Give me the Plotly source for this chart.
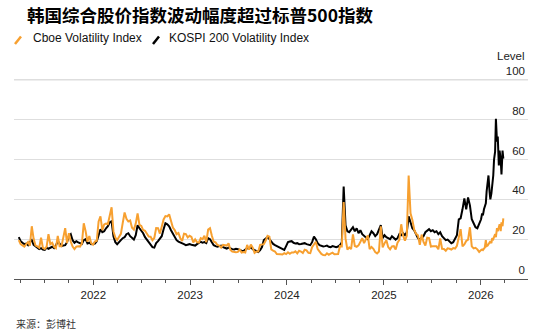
import pandas as pd
import plotly.graph_objects as go

# Weekly (Friday) closes, one list per calendar year; 2026 is sampled twice a week.
vix_2021 = [19.5,
            17.5, 16.9, 16.3, 17.5, 18.6,
            16.7, 26.5, 20.2, 16.8,
            16.4, 15.7, 20.7, 15.6,
            15.1, 16.2, 22.5, 17.5, 18.2,
            16.2, 15.5, 21.7, 16.4,
            16.4, 20.9, 25.5, 18.0,
            23.0, 18.8, 16.3, 15.0, 16.3,
            16.5, 16.3, 17.9, 28.0,
            24.0, 18.7, 21.6, 18.0, 17.2]
vko_2021 = [21.0,
            19.0, 18.2, 17.5, 17.8, 17.0,
            18.5, 19.5, 17.2, 16.3,
            15.8, 15.0, 15.5, 14.8,
            14.6, 15.8, 15.2, 15.9, 16.2,
            15.5, 16.8, 19.0, 17.5,
            16.5, 16.8, 17.0, 18.5,
            21.5, 22.5, 19.5, 18.2, 19.0,
            18.4, 18.0, 17.6, 19.5,
            20.0, 17.8, 18.2, 17.5, 17.6]

vix_2022 = [18.8, 19.2, 28.9, 31.5,
            24.5, 27.4, 27.8, 27.6,
            32.0, 36.0, 23.9, 20.8,
            19.6, 21.2, 22.7, 28.2, 33.4,
            30.2, 28.9, 29.4, 25.7,
            24.8, 27.8, 33.0, 27.2,
            26.7, 24.6, 24.2, 23.0, 21.3,
            21.2, 19.5, 20.6, 25.6,
            25.5, 22.8, 26.3, 29.9, 31.6,
            31.4, 32.5, 29.7, 25.8,
            24.6, 22.5, 23.1, 20.5,
            19.1, 22.8, 22.6, 20.9, 21.7]
vko_2022 = [17.8, 19.0, 22.5, 25.0,
            23.5, 24.0, 25.5, 26.5,
            28.5, 29.0, 21.5, 18.5,
            17.5, 18.8, 19.5, 20.5, 21.0,
            22.5, 23.0, 21.5, 20.5,
            19.8, 22.0, 27.0, 25.5,
            24.5, 23.0, 21.0, 19.8, 18.5,
            17.0, 16.0, 15.8, 18.0,
            19.0, 20.5, 21.5, 25.0, 28.0,
            27.5, 26.5, 24.5, 23.0,
            21.5, 19.5, 18.8, 18.5,
            17.8, 17.5, 17.0, 17.2, 17.5]

vix_2023 = [21.1, 18.4, 19.9, 18.5,
            18.3, 20.5, 20.0, 21.7,
            18.5, 24.8, 25.5, 21.7, 18.7,
            18.4, 17.1, 16.8, 15.8,
            17.2, 17.0, 16.8, 17.9,
            14.6, 13.8, 13.5, 13.4, 13.6,
            14.8, 13.3, 13.6, 13.3,
            17.1, 14.8, 17.3, 15.7,
            13.1, 13.8, 13.8, 17.2, 17.5,
            17.5, 19.3, 21.7, 21.3,
            14.9, 14.2, 13.8, 12.5,
            12.6, 12.4, 12.3, 13.0, 12.5]
vko_2023 = [17.2, 17.0, 16.8, 17.5,
            18.0, 18.7, 18.2, 18.5,
            18.0, 20.5, 20.0, 18.5, 17.0,
            16.5, 16.2, 16.5, 16.8,
            16.0, 15.6, 15.3, 15.8,
            15.2, 15.0, 14.8, 15.2, 15.0,
            14.5, 14.2, 14.0, 14.6,
            15.5, 15.2, 16.0, 15.0,
            14.5, 14.0, 13.6, 14.5, 16.0,
            19.5, 20.5, 21.0, 20.0,
            18.5, 17.6, 17.0, 16.5,
            16.0, 15.5, 15.0, 14.6, 16.5]

vix_2024 = [13.4, 12.7, 13.3, 13.3,
            13.9, 12.9, 14.2, 13.8,
            13.1, 14.7, 14.4, 13.1, 13.0,
            16.0, 17.3, 18.7, 15.0,
            13.5, 12.6, 12.0, 11.9, 12.9,
            12.2, 12.7, 13.2, 12.4,
            12.5, 12.5, 16.5, 16.4,
            38.6, 20.4, 14.8, 15.9, 15.0,
            22.4, 16.6, 16.2, 16.9,
            19.2, 20.5, 18.0, 20.3,
            21.9, 15.0, 16.1, 15.2, 13.5,
            12.8, 13.8, 26.5, 15.9]
vko_2024 = [18.5, 18.8, 19.0, 18.2,
            17.8, 18.0, 17.5, 17.6,
            17.8, 18.0, 17.5, 17.2, 17.0,
            18.5, 21.3, 20.0, 18.0,
            17.0, 16.8, 16.3, 16.5, 16.8,
            16.2, 16.0, 16.5, 16.3,
            16.0, 16.3, 17.0, 18.5,
            46.4, 27.0, 24.0, 23.5, 25.0,
            26.0, 24.0, 25.5, 23.0,
            24.5, 22.5, 21.5, 21.0,
            20.0, 22.0, 24.0, 23.0, 21.5,
            22.5, 24.5, 27.0, 20.5]

vix_2025 = [17.9, 19.5, 16.0, 14.9, 16.4,
            16.5, 14.8, 18.2, 19.6,
            27.5, 21.8, 19.3, 21.7,
            52.0, 33.0, 29.7, 24.8,
            22.7, 21.9, 17.2, 22.3, 18.6,
            16.8, 20.8, 20.6, 16.3,
            16.4, 16.4, 16.4, 14.9,
            20.4, 15.2, 15.1, 14.2, 15.4,
            15.2, 14.8, 15.5, 15.3,
            16.7, 21.7, 25.0, 16.4, 17.4,
            19.1, 19.8, 26.0, 16.4,
            15.4, 15.7, 14.9, 13.6]
vko_2025 = [22.0, 21.0, 20.5, 20.0, 21.5,
            20.5, 19.8, 20.5, 22.5,
            22.0, 23.0, 22.0, 23.5,
            31.5, 28.0, 25.5, 24.5,
            22.0, 20.5, 19.8, 20.5, 21.5,
            23.5, 24.5, 25.0, 24.0,
            24.5, 23.5, 24.0, 22.5,
            23.5, 21.5, 20.5, 19.5, 19.8,
            19.0, 18.0, 18.5, 20.0,
            22.0, 30.0, 30.5, 35.0, 40.5,
            35.0, 41.0, 37.0, 30.0,
            28.0, 26.0, 25.5, 27.5]

dates_2026 = ["2026-01-02", "2026-01-06", "2026-01-09", "2026-01-13", "2026-01-16",
              "2026-01-20", "2026-01-23", "2026-01-27", "2026-01-30", "2026-02-03",
              "2026-02-06", "2026-02-10", "2026-02-13", "2026-02-17", "2026-02-20",
              "2026-02-24", "2026-02-27", "2026-03-03", "2026-03-06", "2026-03-10",
              "2026-03-13", "2026-03-17", "2026-03-20", "2026-03-24", "2026-03-27"]
vix_2026 = [14.5, 14.8, 14.5, 15.5, 15.8, 19.5, 16.5, 16.8, 17.5, 18.5,
            19.0, 18.0, 20.5, 20.0, 21.0, 22.5, 21.0, 25.5, 24.0, 26.5,
            27.5, 24.0, 28.5, 26.5, 30.5]
vko_2026 = [30.0, 33.0, 32.0, 35.0, 36.5, 38.0, 44.0, 48.0, 52.0, 44.0,
            40.0, 43.0, 47.0, 52.0, 60.0, 64.0, 80.5, 69.0, 71.5, 57.0,
            64.5, 60.0, 52.5, 64.5, 60.5]

first_fridays = ["2021-03-26", "2022-01-07", "2023-01-06", "2024-01-05", "2025-01-03"]
vix_years = [vix_2021, vix_2022, vix_2023, vix_2024, vix_2025]
vko_years = [vko_2021, vko_2022, vko_2023, vko_2024, vko_2025]

y_ticks = [0, 20, 40, 60, 80, 100]

SERIES_VIX = "Cboe Volatility Index"
SERIES_VKO = "KOSPI 200 Volatility Index"
TITLE = "韩国综合股价指数波动幅度超过标普500指数"
SOURCE = "来源：彭博社"
UNIT = "Level"

ORANGE = "#F7A030"
BLACK = "#000000"
GRID = "#dedede"

# ---- assemble series -------------------------------------------------------
dates, vix, vko = [], [], []
for start, v, k in zip(first_fridays, vix_years, vko_years):
    dates += list(pd.date_range(start, periods=len(v), freq="W-FRI"))
    vix += v
    vko += k
dates += list(pd.to_datetime(dates_2026))
vix += vix_2026
vko += vko_2026

# ---- page geometry ---------------------------------------------------------
# y scale: 0 sits at 279 px and 1 unit = 1.99 px; the axis is padded above 100
# so that the raised "100" label still fits inside the plotting area.
W, H = 554, 331
Y_TOP = 108
ML, MR, MB = 14, 26, 52
MT = round(H - MB - 1.99 * Y_TOP)
PW, PH = W - ML - MR, H - MT - MB


def px(x):
    return (x - ML) / PW


def py(y):
    return (H - MB - y) / PH


fig = go.Figure()
fig.add_trace(go.Scatter(x=dates, y=vko, mode="lines", name=SERIES_VKO,
                         line=dict(color=BLACK, width=2)))
fig.add_trace(go.Scatter(x=dates, y=vix, mode="lines", name=SERIES_VIX,
                         line=dict(color=ORANGE, width=2)))

latin = "Liberation Sans, Arial, sans-serif"
cjk = "Noto Sans CJK SC, sans-serif"

fig.update_layout(
    width=W, height=H,
    margin=dict(l=ML, r=MR, t=MT, b=MB),
    paper_bgcolor="white", plot_bgcolor="white",
    showlegend=False,
    title=dict(text=TITLE, x=14 / W, xanchor="left", xref="paper",
               y=1 - 16 / H, yanchor="middle", yref="container",
               font=dict(family=cjk, size=17.5, color="#000", weight=700)),
    xaxis=dict(
        type="date",
        range=["2021-03-08", "2026-06-28"],
        showgrid=False, zeroline=False,
        showline=True, linecolor="#555", linewidth=1,
        ticks="outside", ticklen=5, tickcolor="#555", tickwidth=1,
        dtick="M12", tick0="2022-01-01", tickformat="%Y",
        minor=dict(dtick="M3", tick0="2022-01-01", ticks="outside", ticklen=3,
                   tickcolor="#555", tickwidth=1, showgrid=False),
        tickfont=dict(family=latin, size=11.5, color="#222"),
    ),
    yaxis=dict(
        range=[0, Y_TOP], side="right",
        tickvals=y_ticks,
        ticklabelposition="inside", ticks="",
        ticklabelshift=-9,
        showgrid=True, gridcolor=GRID, gridwidth=1.3,
        zeroline=False, showline=False,
        tickfont=dict(family=latin, size=11.5, color="#222"),
    ),
)

# reference line at the top labelled level, drawn over the plot area
fig.add_shape(type="line", xref="paper", yref="y", x0=0, x1=1,
              y0=y_ticks[-1], y1=y_ticks[-1],
              line=dict(color=GRID, width=1.3), layer="above")

# legend swatches (short slanted strokes) and labels
for x0, color in [(15, ORANGE), (153, BLACK)]:
    fig.add_shape(type="line", xref="paper", yref="paper",
                  x0=px(x0), y0=py(44), x1=px(x0 + 6), y1=py(36.5),
                  line=dict(color=color, width=2.5))
for x0, label in [(31, SERIES_VIX), (167, SERIES_VKO)]:
    fig.add_annotation(text=label, xref="paper", yref="paper",
                       x=px(x0), y=py(38.5), xanchor="left", yanchor="middle",
                       showarrow=False, font=dict(family=latin, size=12, color="#111"))

fig.add_annotation(text=UNIT, xref="paper", yref="paper",
                   x=px(527), y=py(56), xanchor="right", yanchor="middle",
                   showarrow=False, font=dict(family=latin, size=11.5, color="#222"))
fig.add_annotation(text=SOURCE, xref="paper", yref="paper",
                   x=px(14), y=py(323.5), xanchor="left", yanchor="middle",
                   showarrow=False, font=dict(family=cjk, size=10, color="#333"))

fig.write_html("out.html")
